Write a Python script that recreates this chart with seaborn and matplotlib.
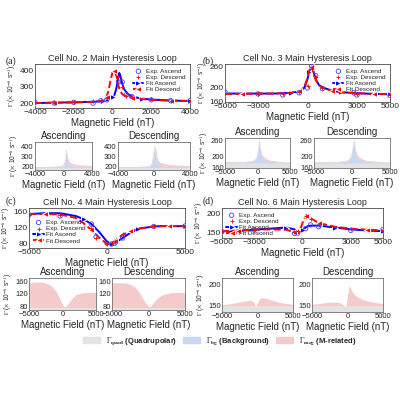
import numpy as np
import pandas as pd
import matplotlib
matplotlib.use("Agg")
import matplotlib.pyplot as plt
import seaborn as sns
from matplotlib.patches import Patch

sns.set_style("white")
plt.rcParams['font.family'] = ['Liberation Sans', 'DejaVu Sans']
plt.rcParams['mathtext.fontset'] = 'stix'

# ---- data ----
titles = ["Cell No. 2 Main Hysteresis Loop", "Cell No. 3 Main Hysteresis Loop",
          "Cell No. 4 Main Hysteresis Loop", "Cell No. 6 Main Hysteresis Loop"]
tags = ["(a)", "(b)", "(c)", "(d)"]

a_x = [-4000, -3000, -2000, -1000, -500, -300, -200, -100, 0, 100, 200, 300, 350, 400, 500, 600, 800, 1000, 1500, 2000, 3000, 4000]
a_asc = [200, 203, 205, 208, 212, 216, 220, 226, 235, 250, 290, 360, 385, 370, 320, 285, 255, 240, 228, 222, 216, 213]
a_desc = [200, 202, 204, 208, 215, 240, 280, 340, 390, 400, 370, 310, 290, 275, 255, 248, 240, 232, 225, 220, 215, 212]
a_bg_asc = [5, 5, 6, 7, 9, 11, 13, 16, 22, 32, 60, 120, 170, 150, 90, 60, 35, 25, 15, 11, 7, 5]
a_bg_desc = [5, 6, 7, 9, 12, 25, 50, 110, 170, 180, 120, 70, 55, 45, 30, 24, 18, 14, 10, 8, 6, 5]
a_quad = 195
a_exp_x = [-4000, -3000, -2000, -1000, -600, -300, 300, 500, 700, 1000, 2000, 3000, 4000]
a_exp_asc = [205, 200, 205, 200, 215, 220, 330, 330, 250, 240, 220, 215, 215]
a_exp_desc = [205, 205, 205, 210, 215, 230, 360, 300, 245, 235, 225, 215, 212]

b_x = [-5000, -4000, -3000, -2000, -1000, -500, -200, 0, 100, 200, 250, 300, 400, 500, 700, 1000, 1500, 2000, 3000, 4000, 5000]
b_asc = [184, 184, 184, 184, 186, 190, 200, 225, 245, 258, 262, 258, 240, 225, 208, 200, 192, 188, 185, 183, 182]
b_desc = [183, 183, 184, 184, 186, 191, 202, 228, 248, 260, 262, 255, 238, 222, 207, 199, 191, 187, 185, 183, 182]
b_bg_asc = [3, 3, 4, 4, 6, 9, 17, 40, 58, 70, 72, 68, 50, 36, 22, 15, 9, 6, 4, 3, 3]
b_bg_desc = [3, 3, 4, 4, 6, 10, 19, 42, 60, 72, 72, 65, 48, 34, 21, 14, 8, 6, 4, 3, 3]
b_quad = 178
b_exp_x = [-5000, -3000, -1500, -500, 0, 250, 500, 900, 2800, 3000, 5000]
b_exp_asc = [188, 183, 180, 186, 200, 262, 235, 198, 186, 180, 178]
b_exp_desc = [184, 184, 182, 188, 205, 255, 230, 200, 186, 182, 180]

c_x = [-5000, -4000, -3000, -2000, -1500, -1000, -500, 0, 300, 500, 1000, 1500, 2000, 3000, 4000, 5000]
c_asc = [155, 157, 157, 150, 142, 130, 110, 86, 80, 82, 95, 108, 118, 124, 125, 124]
c_desc = [155, 155, 154, 145, 132, 115, 96, 80, 82, 88, 103, 112, 118, 124, 125, 125]
c_quad = 78
c_exp_x = [-5000, -3000, -1000, -700, 0, 300, 500, 1000, 3000, 5000]
c_exp_asc = [153, 150, 130, 98, 82, 80, 82, 95, 124, 125]
c_exp_desc = [153, 152, 120, 95, 80, 82, 85, 105, 125, 124]

d_x = [-5000, -4000, -3000, -2000, -1000, -500, -300, -200, 0, 200, 300, 500, 1000, 2000, 3000, 4000, 5000]
d_asc = [152, 154, 157, 160, 163, 158, 148, 149, 156, 163, 166, 168, 168, 163, 158, 155, 153]
d_desc = [153, 155, 157, 158, 157, 150, 148, 150, 175, 195, 197, 188, 175, 165, 160, 157, 155]
d_quad = 150
d_exp_x = [-5000, -3000, -500, -300, 200, 500, 1000, 3000, 5000]
d_exp_asc = [152, 157, 147, 148, 160, 170, 165, 155, 158]
d_exp_desc = [153, 156, 150, 155, 195, 185, 170, 158, 155]

panels = [
    dict(x=a_x, asc=a_asc, desc=a_desc, bga=a_bg_asc, bgd=a_bg_desc, quad=a_quad,
         ex=a_exp_x, ea=a_exp_asc, ed=a_exp_desc, xlim=(-4000, 4000), xt=[-4000, -2000, 0, 2000, 4000],
         subxt=[-4000, 0, 4000], ylim=(170, 440), yt=[200, 300, 400], legloc="upper right"),
    dict(x=b_x, asc=b_asc, desc=b_desc, bga=b_bg_asc, bgd=b_bg_desc, quad=b_quad,
         ex=b_exp_x, ea=b_exp_asc, ed=b_exp_desc, xlim=(-5000, 5000), xt=[-5000, -3000, 0, 3000, 5000],
         subxt=[-5000, 0, 5000], ylim=(160, 268), yt=[160, 200, 260], legloc="upper right"),
    dict(x=c_x, asc=c_asc, desc=c_desc, bga=None, bgd=None, quad=c_quad,
         ex=c_exp_x, ea=c_exp_asc, ed=c_exp_desc, xlim=(-5000, 5000), xt=[-5000, 0, 5000],
         subxt=[-5000, 0, 5000], ylim=(70, 170), yt=[80, 120, 160], legloc="lower left"),
    dict(x=d_x, asc=d_asc, desc=d_desc, bga=None, bgd=None, quad=d_quad,
         ex=d_exp_x, ea=d_exp_asc, ed=d_exp_desc, xlim=(-5000, 5000), xt=[-5000, -3000, 0, 3000, 5000],
         subxt=[-5000, 0, 5000], ylim=(135, 215), yt=[150, 200], legloc="upper left"),
]

# pixel boxes (left, top, right, bottom)
main_boxes = [(35, 64, 190, 108), (225, 64, 390, 102), (29, 208, 185, 248), (222, 208, 383, 238)]
sub_boxes = [[(35, 142, 92, 170), (118, 142, 190, 170)],
             [(225, 138, 290, 168), (314, 138, 390, 168)],
             [(29, 278, 96, 310), (112, 278, 185, 310)],
             [(222, 278, 293, 312), (312, 278, 383, 312)]]
tag_pos = [(6, 56), (203, 56), (6, 196), (203, 196)]

fig = plt.figure(figsize=(4, 4), dpi=100)
W = H = 400.0
def ax_at(b):
    l, t, r, bt = b
    return fig.add_axes([l / W, 1 - bt / H, (r - l) / W, (bt - t) / H])

ylab = r'$\Gamma$ ($\times$ 10$^{-6}$ s$^{-1}$)'
c_quad_col, c_bg_col, c_mag_col = '#e3e3e3', '#c9d8f2', '#f5caca'
FT = 6.0   # tick labels
FS = 5.5   # sub tick labels
FY = 4.8   # y labels
FL = 7.0   # axis labels
FTT = 6.5  # titles

for i, p in enumerate(panels):
    ax = ax_at(main_boxes[i])
    df = pd.DataFrame({"x": p["x"], "asc": p["asc"], "desc": p["desc"]})
    sns.lineplot(data=df, x="x", y="asc", ax=ax, color='blue', lw=1.4, marker='>', ms=4,
                 markevery=[0, 4, 8, len(p["x"]) - 4, len(p["x"]) - 1], label='Fit Ascend', zorder=3)
    sns.lineplot(data=df, x="x", y="desc", ax=ax, color='red', lw=1.4, ls='--', marker='<', ms=4,
                 markevery=[1, 5, 9, len(p["x"]) - 5, len(p["x"]) - 2], label='Fit Descend', zorder=4)
    de = pd.DataFrame({"x": p["ex"], "a": p["ea"], "d": p["ed"]})
    sns.scatterplot(data=de, x="x", y="a", ax=ax, marker='o', facecolors='none', edgecolor='#4444ff',
                    s=10, linewidth=0.6, label='Exp. Ascend', zorder=5)
    sns.scatterplot(data=de, x="x", y="d", ax=ax, marker='+', color='red', s=8, linewidth=0.6,
                    label='Exp. Descend', zorder=5)
    h, l = ax.get_legend_handles_labels()
    order = [2, 3, 0, 1]
    ax.legend([h[k] for k in order], [l[k] for k in order], loc=p["legloc"], fontsize=4.6,
              frameon=False, handlelength=1.6, borderpad=0.2, labelspacing=0.1, handletextpad=0.4)
    ax.set_xlim(*p["xlim"]); ax.set_ylim(*p["ylim"])
    ax.set_xticks(p["xt"]); ax.set_yticks(p["yt"])
    ax.tick_params(labelsize=FT, length=2, direction='in', pad=1)
    ax.set_xlabel("Magnetic Field (nT)", fontsize=FL, labelpad=1)
    ax.set_ylabel(ylab, fontsize=FY, labelpad=1)
    ax.set_title(titles[i], fontsize=FTT, pad=2)
    fig.text(tag_pos[i][0] / W, 1 - tag_pos[i][1] / H, tags[i], fontsize=7,
             family='Liberation Serif', ha='left', va='top')
    for s in ax.spines.values():
        s.set_linewidth(0.5)

    for j, (name, tot, bg) in enumerate([("Ascending", p["asc"], p["bga"]), ("Descending", p["desc"], p["bgd"])]):
        sa = ax_at(sub_boxes[i][j])
        x = np.array(p["x"], float); tot = np.array(tot, float)
        q = np.full_like(x, p["quad"])
        y0 = p["ylim"][0]
        sa.fill_between(x, y0, np.minimum(q, tot), color=c_quad_col, lw=0)
        top_bg = q if bg is None else q + np.array(bg, float)
        if bg is not None:
            sa.fill_between(x, q, np.minimum(top_bg, tot), color=c_bg_col, lw=0)
        sa.fill_between(x, np.minimum(top_bg, tot), tot, color=c_mag_col, lw=0)
        sa.set_xlim(*p["xlim"]); sa.set_ylim(*p["ylim"])
        sa.set_xticks(p["subxt"]); sa.set_yticks(p["yt"])
        sa.tick_params(labelsize=FS, length=2, direction='in', pad=1)
        sa.set_title(name, fontsize=FL, pad=2)
        sa.set_xlabel("Magnetic Field (nT)", fontsize=FL, labelpad=1)
        if j == 0:
            sa.set_ylabel(ylab, fontsize=FY, labelpad=1)
        else:
            sa.set_ylabel("")
        for s in sa.spines.values():
            s.set_linewidth(0.5)
            s.set_color('#555555')

handles = [Patch(color=c_quad_col), Patch(color=c_bg_col), Patch(color=c_mag_col)]
labels = [r'$\Gamma_{\mathbf{quad}}$ (Quadrupolar)', r'$\Gamma_{\mathbf{bg}}$ (Background)',
          r'$\Gamma_{\mathbf{mag}}$ (M-related)']
fig.legend(handles, labels, loc='center', bbox_to_anchor=(0.55, 1 - 341 / H), ncol=3,
           frameon=False, handlelength=2.2, columnspacing=0.8, prop={'weight': 'bold', 'size': 5.5})

fig.savefig("out.png", dpi=100, facecolor='white')
